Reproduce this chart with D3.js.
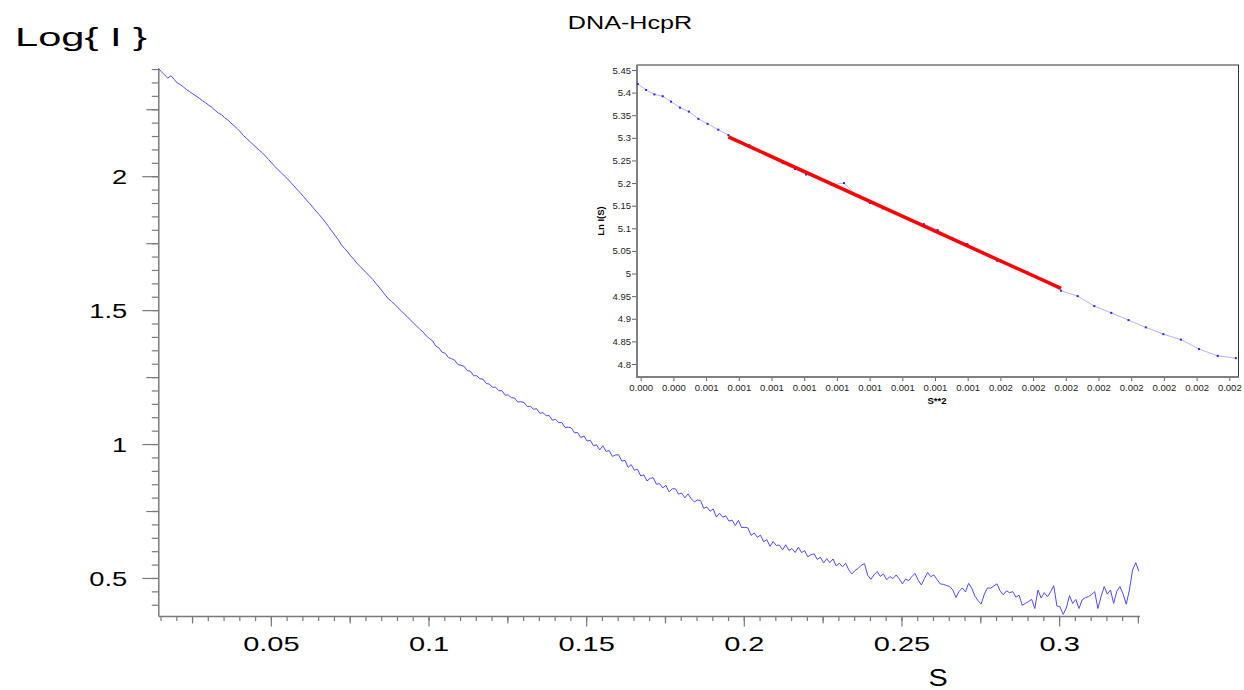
<!DOCTYPE html>
<html>
<head>
<meta charset="utf-8">
<script src="https://cdn.jsdelivr.net/npm/d3@7/dist/d3.min.js"></script>
<style>
  html, body { margin: 0; padding: 0; background: #fff; }
  svg { display: block; }
  text { font-family: Arial, "Liberation Sans", sans-serif; }
</style>
</head>
<body>
<svg id="chart" width="1244" height="690"></svg>
<script>
// ---------------- DATA ----------------
const chartTitle = "DNA-HcpR";
const sStart = 0.0143;
const sStep = 0.001;
// Log10 intensity on the s grid
const logI = [
  2.403,2.390,2.378,2.366,2.375,2.362,2.348,2.342,2.333,2.323,
  2.315,2.307,2.299,2.291,2.282,2.274,2.265,2.257,2.246,2.236,
  2.230,2.219,2.210,2.199,2.189,2.178,2.166,2.152,2.141,2.130,
  2.119,2.108,2.097,2.087,2.075,2.062,2.049,2.036,2.024,2.013,
  2.001,1.990,1.977,1.964,1.951,1.938,1.925,1.911,1.898,1.884,
  1.870,1.857,1.843,1.828,1.812,1.796,1.780,1.764,1.745,1.731,
  1.718,1.703,1.690,1.675,1.663,1.651,1.639,1.627,1.615,1.600,
  1.586,1.571,1.556,1.542,1.532,1.522,1.509,1.498,1.486,1.475,
  1.463,1.451,1.440,1.428,1.418,1.404,
  1.394,1.385,1.366,1.359,1.343,1.339,1.323,1.319,1.313,1.297,
  1.294,1.290,1.274,1.272,1.255,1.255,1.244,1.242,1.226,1.224,
  1.212,1.212,1.199,1.199,1.183,1.183,1.173,1.172,1.157,1.158,
  1.155,1.140,1.141,1.130,1.132,1.115,1.117,1.106,1.106,1.089,
  1.092,1.080,1.080,1.062,1.063,1.060,1.042,1.043,1.024,1.030,
  1.011,
  1.014,0.994,0.997,0.978,0.994,0.972,0.976,0.954,0.959,0.960,
  0.936,0.939,0.913,0.923,0.902,0.906,0.881,0.885,0.862,0.872,
  0.874,0.850,0.852,0.836,0.846,0.821,0.833,0.833,0.813,0.817,
  0.799,0.814,0.796,0.784,0.791,0.789,0.760,0.765,0.749,0.758,
  0.727,0.742,0.727,0.732,0.712,0.716,0.696,0.715,0.688,0.689,
  0.687,0.659,0.668,0.652,0.660,0.635,0.643,0.618,0.636,0.621,
  0.623,0.605,0.624,0.603,0.610,0.595,0.615,0.595,0.602,0.579,
  0.587,0.590,0.569,0.577,0.556,0.572,0.557,0.571,0.545,0.555,
  0.542,0.555,
  0.530,0.515,0.528,0.536,0.548,0.553,0.510,0.495,0.512,0.524,0.506,
  0.515,0.493,0.505,0.498,0.511,0.497,0.478,0.496,0.490,0.505,
  0.517,0.492,0.474,0.498,0.520,0.505,0.511,0.494,0.478,0.476,
  0.472,0.468,0.455,0.427,0.450,0.463,0.448,0.480,0.462,0.432,
  0.415,0.403,0.440,0.463,0.462,0.470,0.478,0.452,0.437,0.452,
  0.445,0.449,0.428,0.436,0.398,0.405,0.412,0.420,0.386,0.455,
  0.425,0.445,0.430,0.448,0.471,0.396,0.392,0.364,0.388,0.434,
  0.405,0.420,0.386,0.418,0.427,0.430,0.438,0.449,0.386,0.430,
  0.468,0.440,0.455,0.405,0.450,0.468,0.440,0.402,0.455,0.530,
  0.557,0.525
];
const sValues = logI.map((_, i) => +(sStart + i * sStep).toFixed(4));

const xMajorTicks = [0.05, 0.1, 0.15, 0.2, 0.25, 0.3];
const xMajorLabels = ["0.05", "0.1", "0.15", "0.2", "0.25", "0.3"];
const xMediumTicks = [0.025, 0.075, 0.125, 0.175, 0.225, 0.275, 0.325];
const xMinorTicks = d3.range(0.015, 0.3255, 0.005);
const yMajorTicks = [0.5, 1, 1.5, 2];
const yMajorLabels = ["0.5", "1", "1.5", "2"];
const yMediumTicks = [0.75, 1.25, 1.75, 2.25];
const yMinorTicks = d3.range(0.4, 2.401, 0.05);

// Inset (Guinier plot)
const insetS2 = [
  0.000290,0.000318,0.000346,0.000374,0.000402,0.000432,0.000462,0.000494,0.000525,0.000561,
  0.000595,0.000628,0.000665,0.000703,0.000740,0.000778,0.000819,0.000856,0.000900,0.000942,
  0.000984,0.001027,0.001071,0.001114,0.001159,0.001204,0.001253,0.001299,0.001348,0.001399,
  0.001449,0.001499,0.001551,0.001602,0.001658,0.001714,0.001770,0.001826,0.001883,0.001941,
  0.001999,0.002058,0.002117,0.002178,0.002241,0.002302
];
const insetLnI = [
  5.419,5.406,5.396,5.392,5.380,5.367,5.358,5.342,5.331,5.318,
  5.306,5.293,5.284,5.270,5.259,5.244,5.231,5.219,5.211,5.196,
  5.200,5.171,5.156,5.144,5.133,5.121,5.109,5.096,5.079,5.065,
  5.046,5.028,5.016,5.002,4.984,4.962,4.950,4.928,4.913,4.897,
  4.881,4.866,4.854,4.833,4.818,4.813
];
const fitS2 = [0.000595, 0.001714];
const fitLnI = [5.302, 4.967];
const insetXTicks = [0.00030,0.00041,0.00052,0.00063,0.00074,0.00085,0.00096,0.00107,0.00118,0.00129,
                     0.00140,0.00151,0.00162,0.00173,0.00184,0.00195,0.00206,0.00217,0.00228];
const insetXLabels = ["0.000","0.000","0.001","0.001","0.001","0.001","0.001","0.001","0.001","0.001",
                      "0.001","0.002","0.002","0.002","0.002","0.002","0.002","0.002","0.002"];
const insetYTicks = [4.8,4.85,4.9,4.95,5,5.05,5.1,5.15,5.2,5.25,5.3,5.35,5.4,5.45];
const insetYLabels = ["4.8","4.85","4.9","4.95","5","5.05","5.1","5.15","5.2","5.25","5.3","5.35","5.4","5.45"];

// ---------------- DRAW ----------------
const svg = d3.select("#chart");
svg.append("rect").attr("width", 1244).attr("height", 690).attr("fill", "#fff");

const x = d3.scaleLinear().domain([0.0143, 0.3255]).range([158.3, 1139.5]);
const y = d3.scaleLinear().domain([0.358, 2.404]).range([616, 68]);
const axisColor = "#7a7a7a";

// Y axis (minor, medium, major)
function styleAxis(g) {
  g.selectAll("path.domain").attr("stroke", axisColor).attr("stroke-width", 1.5);
  g.selectAll(".tick line").attr("stroke", axisColor).attr("stroke-width", 1.2);
}
svg.append("g").attr("transform", "translate(158.3,0)")
  .call(d3.axisLeft(y).tickValues(yMinorTicks).tickSize(6.5).tickSizeOuter(0).tickFormat(""))
  .call(styleAxis);
svg.append("g").attr("transform", "translate(158.3,0)")
  .call(d3.axisLeft(y).tickValues(yMediumTicks).tickSize(12).tickSizeOuter(0).tickFormat(""))
  .call(g => g.select("path.domain").remove()).call(styleAxis);
const yMajor = svg.append("g").attr("transform", "translate(158.3,0)")
  .call(d3.axisLeft(y).tickValues(yMajorTicks).tickSize(16).tickSizeOuter(0)
        .tickFormat((d, i) => yMajorLabels[i]))
  .call(g => g.select("path.domain").remove()).call(styleAxis);
yMajor.selectAll(".tick text")
  .attr("x", 0).attr("dy", "0.35em")
  .attr("transform", "translate(-31,0) scale(1.3,1)")
  .attr("text-anchor", "end")
  .attr("fill", "#000").style("font-size", "21px");

// X axis
svg.append("g").attr("transform", "translate(0,616)")
  .call(d3.axisBottom(x).tickValues(xMinorTicks).tickSize(5).tickSizeOuter(0).tickFormat(""))
  .call(styleAxis);
svg.append("g").attr("transform", "translate(0,616)")
  .call(d3.axisBottom(x).tickValues(xMediumTicks).tickSize(7.5).tickSizeOuter(0).tickFormat(""))
  .call(g => g.select("path.domain").remove()).call(styleAxis);
const xMajor = svg.append("g").attr("transform", "translate(0,616)")
  .call(d3.axisBottom(x).tickValues(xMajorTicks).tickSize(10.5).tickSizeOuter(0)
        .tickFormat((d, i) => xMajorLabels[i]))
  .call(g => g.select("path.domain").remove()).call(styleAxis);
xMajor.selectAll(".tick text")
  .attr("y", 0).attr("dy", 0)
  .attr("transform", "translate(0,35) scale(1.38,1)")
  .attr("text-anchor", "middle")
  .attr("fill", "#000").style("font-size", "21px");

// Main curve
const mainData = sValues.map((s, i) => [s, logI[i]]);
svg.append("path")
  .datum(mainData)
  .attr("fill", "none")
  .attr("stroke", "#4b4bff")
  .attr("stroke-width", 1)
  .attr("stroke-linejoin", "round")
  .attr("d", d3.line().x(d => x(d[0])).y(d => y(d[1])));

// Axis titles and chart title
svg.append("text").attr("x", 15).attr("y", 46)
  .attr("textLength", 132).attr("lengthAdjust", "spacingAndGlyphs")
  .style("font-size", "26px").attr("fill", "#000").text("Log{ I }");
svg.append("text").attr("transform", "translate(938,686) scale(1.2,1)")
  .attr("text-anchor", "middle").style("font-size", "24px").attr("fill", "#000").text("S");
svg.append("text").attr("transform", "translate(630,29) scale(1.4,1)")
  .attr("text-anchor", "middle").style("font-size", "18px").attr("fill", "#000").text(chartTitle);

// ---------------- INSET ----------------
const inset = { left: 637, right: 1238.5, top: 65, bottom: 377 };
const xi = d3.scaleLinear().domain([0.0003, 0.00228]).range([640.7, 1229.3]);
const yi = d3.scaleLinear().domain([4.8, 5.45]).range([364, 70]);

svg.append("rect")
  .attr("x", inset.left).attr("y", inset.top)
  .attr("width", inset.right - inset.left).attr("height", inset.bottom - inset.top)
  .attr("fill", "#fff").attr("stroke", "#333").attr("stroke-width", 1);
svg.append("line").attr("x1", inset.left).attr("x2", inset.left)
  .attr("y1", inset.top).attr("y2", inset.bottom + 1)
  .attr("stroke", "#808080").attr("stroke-width", 2);
svg.append("line").attr("x1", inset.left - 1).attr("x2", inset.right)
  .attr("y1", inset.bottom).attr("y2", inset.bottom)
  .attr("stroke", "#808080").attr("stroke-width", 2);

const yiAxis = svg.append("g").attr("transform", `translate(${inset.left - 1},0)`)
  .call(d3.axisLeft(yi).tickValues(insetYTicks).tickSize(4).tickPadding(1)
        .tickFormat((d, i) => insetYLabels[i]));
yiAxis.select("path.domain").remove();
yiAxis.selectAll(".tick line").attr("stroke", "#666");
yiAxis.selectAll(".tick text").style("font-size", "9.5px").attr("fill", "#222")
  .style("font-family", "Arial, 'Liberation Sans', sans-serif");

const xiAxis = svg.append("g").attr("transform", `translate(0,${inset.bottom + 1})`)
  .call(d3.axisBottom(xi).tickValues(insetXTicks).tickSize(3).tickPadding(3)
        .tickFormat((d, i) => insetXLabels[i]));
xiAxis.select("path.domain").remove();
xiAxis.selectAll(".tick line").attr("stroke", "#666");
xiAxis.selectAll(".tick text").style("font-size", "9.5px").attr("fill", "#222")
  .style("font-family", "Arial, 'Liberation Sans', sans-serif");

// Inset data line + points
const insetData = insetS2.map((s2, i) => [s2, insetLnI[i]]);
svg.append("path").datum(insetData)
  .attr("fill", "none").attr("stroke", "#b4b4ff").attr("stroke-width", 1)
  .attr("d", d3.line().x(d => xi(d[0])).y(d => yi(d[1])));
svg.append("g").selectAll("rect").data(insetData).join("rect")
  .attr("x", d => xi(d[0]) - 1).attr("y", d => yi(d[1]) - 1)
  .attr("width", 2).attr("height", 2).attr("fill", "#2323ff");

// Guinier fit line
const fitData = fitS2.map((s2, i) => [s2, fitLnI[i]]);
svg.append("path").datum(fitData)
  .attr("fill", "none").attr("stroke", "#ff0000").attr("stroke-width", 3.5)
  .attr("d", d3.line().x(d => xi(d[0])).y(d => yi(d[1])));

// Inset axis titles
svg.append("text").attr("transform", `translate(604,${(inset.top + inset.bottom) / 2}) rotate(-90)`)
  .attr("text-anchor", "middle").style("font-size", "9.5px").style("font-weight", "bold")
  .attr("fill", "#000").text("Ln I(S)");
svg.append("text").attr("x", 937).attr("y", 404)
  .attr("text-anchor", "middle").style("font-size", "9.5px").style("font-weight", "bold")
  .attr("fill", "#000").text("S**2");
</script>
</body>
</html>
